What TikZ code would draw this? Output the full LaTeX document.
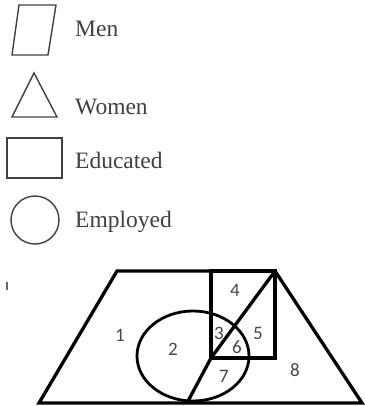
\documentclass[tikz,border=0pt]{standalone}
\usepackage{fontspec}
\setmainfont{Liberation Serif}
\newfontfamily\numfont{Carlito}
\tikzset{
  legendshape/.style={draw=black!75, line width=1.4pt, line join=miter},
  legendtext/.style={anchor=base west, inner sep=0pt, text=black!75, font=\fontsize{23.5}{25}\selectfont},
  thick region/.style={draw=black, line width=3.3pt, line join=miter},
  regionlabel/.style={inner sep=0pt, text=black!72, font=\numfont\fontsize{19}{21}\selectfont}
}
\begin{document}
\begin{tikzpicture}[x=1pt,y=-1pt]
\useasboundingbox (0,0) rectangle (364,406);
% legend
\draw[legendshape] (19,5) -- (56,5) -- (48,55) -- (12,55) -- cycle;
\node[legendtext] (men) at (75,37) {Men};
\draw[legendshape] (34,73) -- (57,117) -- (12,117) -- cycle;
\node[legendtext] (women) at (75,115) {Women};
\draw[legendshape] (7,138) rectangle (62,178);
\node[legendtext] (educated) at (75,168) {Educated};
\draw[legendshape] (35,220) circle[radius=24];
\node[legendtext] (employed) at (75,227) {Employed};
% stray tick
\draw[black!60, line width=1.5pt] (7,282) -- (7,290);
% main diagram
\coordinate (tl) at (117,271);
\coordinate (tr) at (275,271);
\coordinate (br) at (362,403);
\coordinate (bl) at (39,403);
\coordinate (rbl) at (211,358);
\coordinate (db) at (187,403);
\draw[thick region] (tl) -- (tr) -- (br) -- (bl) -- cycle;
\draw[thick region] (211,271) rectangle (275,358);
\draw[line width=2.8pt] (193,356) ellipse[x radius=56, y radius=45];
\draw[thick region] (tr) -- (rbl) -- (db);
\node[regionlabel] (n1) at (120,335) {1};
\node[regionlabel] (n2) at (173,349) {2};
\node[regionlabel] (n3) at (219,333) {3};
\node[regionlabel] (n4) at (235,290) {4};
\node[regionlabel] (n5) at (258,333) {5};
\node[regionlabel] (n6) at (237,347) {6};
\node[regionlabel] (n7) at (224,376) {7};
\node[regionlabel] (n8) at (295,370) {8};
\end{tikzpicture}
\end{document}
